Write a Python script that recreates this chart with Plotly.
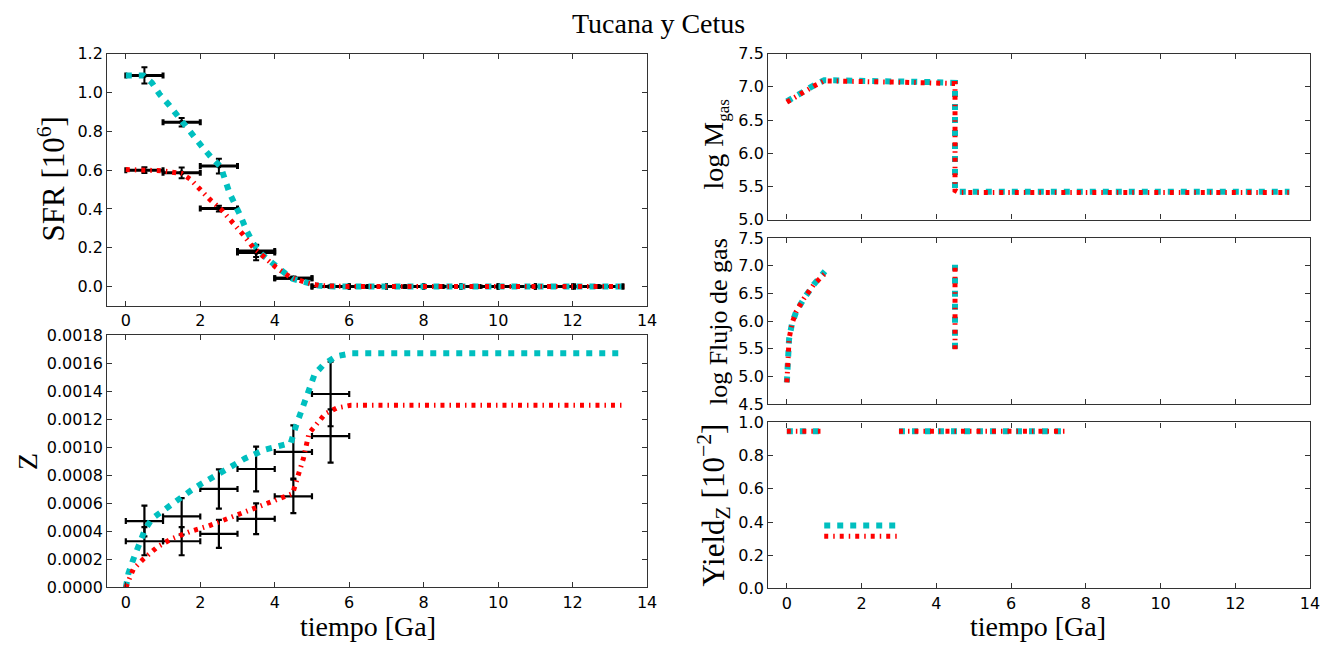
import plotly.graph_objects as go

# ---------------- data ----------------
# SFR panel: observational bins
sfr_t = [0.5, 1.5, 2.5, 3.5, 4.5, 5.5, 6.5, 7.5, 8.5, 9.5, 10.5, 11.5, 12.7]
sfr_terr = [0.5, 0.5, 0.5, 0.5, 0.5, 0.5, 0.5, 0.5, 0.5, 0.5, 0.5, 0.5, 0.65]
sfr_obs_a = [1.088, 0.847, 0.621, 0.183, 0.043, 0.0, 0.0, 0.0, 0.0, 0.0, 0.0, 0.0, 0.0]
sfr_obs_a_err = [0.042, 0.022, 0.038, 0.03, 0.008, 0.004, 0.004, 0.004, 0.004, 0.004, 0.004, 0.004, 0.004]
sfr_obs_b = [0.600, 0.586, 0.402, 0.176, 0.043, 0.0, 0.0, 0.0, 0.0, 0.0, 0.0, 0.0, 0.0]
sfr_obs_b_err = [0.015, 0.028, 0.015, 0.04, 0.008, 0.004, 0.004, 0.004, 0.004, 0.004, 0.004, 0.004, 0.004]

# SFR models
sfr_mod_t_c = [0, 0.47, 0.7, 0.91, 1.16, 1.5, 1.85, 2.05, 2.3, 2.55, 2.79, 2.99, 3.09, 3.24,
               3.43, 3.63, 3.93, 4.18, 4.48, 4.82, 5.17, 5.6, 6.0, 8.0, 10.0, 12.0, 13.4]
sfr_mod_c = [1.088, 1.088, 1.05, 0.99, 0.936, 0.85, 0.77, 0.72, 0.665, 0.617, 0.48, 0.41, 0.36, 0.29,
             0.22, 0.17, 0.117, 0.083, 0.04, 0.022, 0.005, 0.0, 0.0, 0.0, 0.0, 0.0, 0.0]
sfr_mod_t_r = [0, 0.5, 0.96, 1.5, 1.75, 2.0, 2.25, 2.55, 2.84, 3.14, 3.43, 3.73, 4.03, 4.42,
               4.82, 5.2, 5.6, 6.0, 8.0, 10.0, 12.0, 13.4]
sfr_mod_r = [0.603, 0.602, 0.597, 0.583, 0.55, 0.5, 0.45, 0.40, 0.34, 0.27, 0.2, 0.15, 0.1, 0.048,
             0.022, 0.005, 0.0, 0.0, 0.0, 0.0, 0.0, 0.0]

# Z panel: observational bins
z_t = [0.5, 1.5, 2.5, 3.5, 4.5, 5.5]
z_terr = [0.5, 0.5, 0.5, 0.5, 0.5, 0.5]
z_obs_a = [0.000474, 0.000507, 0.000703, 0.000845, 0.000967, 0.00138]
z_obs_a_err = [0.00011, 0.00013, 0.00014, 0.00016, 0.00019, 0.00023]
z_obs_b = [0.00033, 0.00033, 0.000383, 0.00049, 0.00065, 0.00108]
z_obs_b_err = [0.0001, 0.0001, 0.0001, 0.00011, 0.00012, 0.00019]

# Z models
z_mod_t_c = [0, 0.07, 0.2, 0.36, 0.51, 0.7, 1.05, 1.4, 1.74, 2.03, 2.42, 2.81, 3.2, 3.7, 4.18,
             4.43, 4.58, 4.72, 4.92, 5.07, 5.31, 5.66, 6.05, 8.0, 10.0, 12.0, 13.4]
z_mod_c = [0.0, 0.0001, 0.0002, 0.00031, 0.00041, 0.00049, 0.00056, 0.00062, 0.00069, 0.00074,
           0.0008, 0.00086, 0.00092, 0.00098, 0.00101, 0.00103, 0.00116, 0.00126, 0.00141,
           0.00152, 0.00159, 0.00165, 0.00167, 0.00167, 0.00167, 0.00167, 0.00167]
z_mod_t_r = [0, 0.07, 0.2, 0.46, 0.85, 1.25, 1.74, 2.23, 2.81, 3.4, 3.99, 4.48, 4.63, 4.77,
             4.92, 5.12, 5.36, 5.66, 6.05, 8.0, 10.0, 12.0, 13.4]
z_mod_r = [0.0, 0.00005, 0.00013, 0.0002, 0.00029, 0.00035, 0.0004, 0.00044, 0.0005, 0.00056,
           0.00062, 0.00067, 0.0008, 0.00092, 0.0011, 0.00117, 0.00124, 0.00128, 0.0013,
           0.0013, 0.0013, 0.0013, 0.0013]

# log M_gas
mgas_t = [0, 0.25, 0.5, 0.75, 1.0, 1.5, 2.0, 3.0, 4.0, 4.5, 4.5, 4.6, 5.0, 6.0, 8.0, 10.0, 12.0, 13.45]
mgas_c = [6.78, 6.87, 6.95, 7.03, 7.10, 7.10, 7.09, 7.08, 7.07, 7.06, 5.45, 5.42, 5.42, 5.42, 5.42, 5.42, 5.42, 5.42]
mgas_r = [6.77, 6.86, 6.94, 7.02, 7.09, 7.09, 7.08, 7.07, 7.06, 7.05, 5.44, 5.41, 5.41, 5.41, 5.41, 5.41, 5.41, 5.41]

# log gas inflow
flujo_t = [0, 0.01, 0.03, 0.06, 0.14, 0.25, 0.46, 0.72, 1.02, None, 4.5, 4.5]
flujo_c = [4.89, 5.07, 5.26, 5.68, 5.96, 6.17, 6.41, 6.66, 6.9, None, 5.5, 7.02]
flujo_r = [4.89, 5.07, 5.26, 5.68, 5.96, 6.17, 6.41, 6.66, 6.86, None, 5.49, 7.0]

# Yield_Z
yield_t = [0, 0.9, None, 1.0, 3.0, None, 3.0, 7.5]
yield_c = [0.947, 0.947, None, 0.379, 0.379, None, 0.947, 0.947]
yield_r = [0.947, 0.947, None, 0.314, 0.314, None, 0.947, 0.947]

# ---------------- styles ----------------
CYAN = "#00bfbf"
RED = "#ff0000"
cyan_line = dict(color=CYAN, width=6, dash="6px,7px")
red_line = dict(color=RED, width=5, dash="4px,5px,1.5px,5px")

W, H = 1326, 647


def px_x(x):
    return x / W


def px_y(y):
    return 1 - y / H


fig = go.Figure()

# SFR observations
for yv, ye in [(sfr_obs_a, sfr_obs_a_err), (sfr_obs_b, sfr_obs_b_err)]:
    fig.add_trace(go.Scatter(
        x=sfr_t, y=yv, mode="markers", xaxis="x", yaxis="y",
        marker=dict(color="black", size=5),
        error_x=dict(type="data", array=sfr_terr, color="black", thickness=3, width=3),
        error_y=dict(type="data", array=ye, color="black", thickness=2, width=3),
        showlegend=False))
fig.add_trace(go.Scatter(x=sfr_mod_t_c, y=sfr_mod_c, mode="lines", line=cyan_line,
                         xaxis="x", yaxis="y", showlegend=False))
fig.add_trace(go.Scatter(x=sfr_mod_t_r, y=sfr_mod_r, mode="lines", line=red_line,
                         xaxis="x", yaxis="y", showlegend=False))

# Z observations
for yv, ye in [(z_obs_a, z_obs_a_err), (z_obs_b, z_obs_b_err)]:
    fig.add_trace(go.Scatter(
        x=z_t, y=yv, mode="markers", xaxis="x2", yaxis="y2",
        marker=dict(color="black", size=1),
        error_x=dict(type="data", array=z_terr, color="black", thickness=2.2, width=3),
        error_y=dict(type="data", array=ye, color="black", thickness=2.2, width=3),
        showlegend=False))
fig.add_trace(go.Scatter(x=z_mod_t_c, y=z_mod_c, mode="lines", line=cyan_line,
                         xaxis="x2", yaxis="y2", showlegend=False))
fig.add_trace(go.Scatter(x=z_mod_t_r, y=z_mod_r, mode="lines", line=red_line,
                         xaxis="x2", yaxis="y2", showlegend=False))

# right panels
for ax, tt, yc, yr in [("3", mgas_t, mgas_c, mgas_r),
                       ("4", flujo_t, flujo_c, flujo_r),
                       ("5", yield_t, yield_c, yield_r)]:
    fig.add_trace(go.Scatter(x=tt, y=yc, mode="lines", line=cyan_line, connectgaps=False,
                             xaxis="x" + ax, yaxis="y" + ax, showlegend=False))
    fig.add_trace(go.Scatter(x=tt, y=yr, mode="lines", line=red_line, connectgaps=False,
                             xaxis="x" + ax, yaxis="y" + ax, showlegend=False))

tick_font = dict(family="DejaVu Sans", size=16, color="black")
common = dict(showline=True, linecolor="#333333", linewidth=1.3, mirror="ticks",
              ticks="inside", ticklen=5, tickwidth=1, tickcolor="#333333",
              showgrid=False, zeroline=False, tickfont=tick_font)

left_x = [px_x(108), px_x(652)]
right_x = [px_x(774), px_x(1320)]

xcommon = dict(range=[-0.5, 14], dtick=2, tick0=0, **common)

fig.update_layout(
    width=W, height=H,
    margin=dict(l=0, r=0, t=0, b=0),
    paper_bgcolor="white", plot_bgcolor="white",
    xaxis=dict(domain=left_x, anchor="y", **xcommon),
    yaxis=dict(domain=[px_y(306), px_y(46)], anchor="x", range=[-0.1, 1.2], dtick=0.2,
               tick0=0, tickformat=".1f", **common),
    xaxis2=dict(domain=left_x, anchor="y2", **xcommon),
    yaxis2=dict(domain=[px_y(596), px_y(336)], anchor="x2", range=[0, 0.0018], dtick=0.0002,
                tick0=0, tickformat=".4f", **common),
    xaxis3=dict(domain=right_x, anchor="y3", showticklabels=False, **xcommon),
    yaxis3=dict(domain=[px_y(217), px_y(46)], anchor="x3", range=[5, 7.5], dtick=0.5,
                tick0=5, tickformat=".1f", **common),
    xaxis4=dict(domain=right_x, anchor="y4", showticklabels=False, **xcommon),
    yaxis4=dict(domain=[px_y(407), px_y(236)], anchor="x4", range=[4.5, 7.5], dtick=0.5,
                tick0=4.5, tickformat=".1f", **common),
    xaxis5=dict(domain=right_x, anchor="y5", **xcommon),
    yaxis5=dict(domain=[px_y(597), px_y(426)], anchor="x5", range=[0, 1.0], dtick=0.2,
                tick0=0, tickformat=".1f", **common),
)

serif = "Liberation Serif"
annos = [
    dict(text="Tucana y Cetus", x=664, y=15, size=28, angle=0),
    dict(text="SFR [10<sup>6</sup>]", x=52, y=175, size=31, angle=-90),
    dict(text="Z", x=28, y=466, size=28, angle=-90),
    dict(text="tiempo [Ga]", x=371, y=636, size=28, angle=0),
    dict(text="tiempo [Ga]", x=1046, y=636, size=28, angle=0),
    dict(text="log M<sub><span style='font-size:17px'>gas</span></sub>", x=721, y=140, size=28, angle=-90),
    dict(text="log Flujo de gas", x=724, y=322, size=26, angle=-90),
    dict(text="Yield<sub>Z</sub> [10<sup>−2</sup>]", x=719, y=511, size=31, angle=-90),
]
for a in annos:
    fig.add_annotation(text=a["text"], x=px_x(a["x"]), y=px_y(a["y"]), xref="paper", yref="paper",
                       xanchor="center", yanchor="middle", showarrow=False, textangle=a["angle"],
                       font=dict(family=serif, size=a["size"], color="black"))

fig.write_html("out.html")
